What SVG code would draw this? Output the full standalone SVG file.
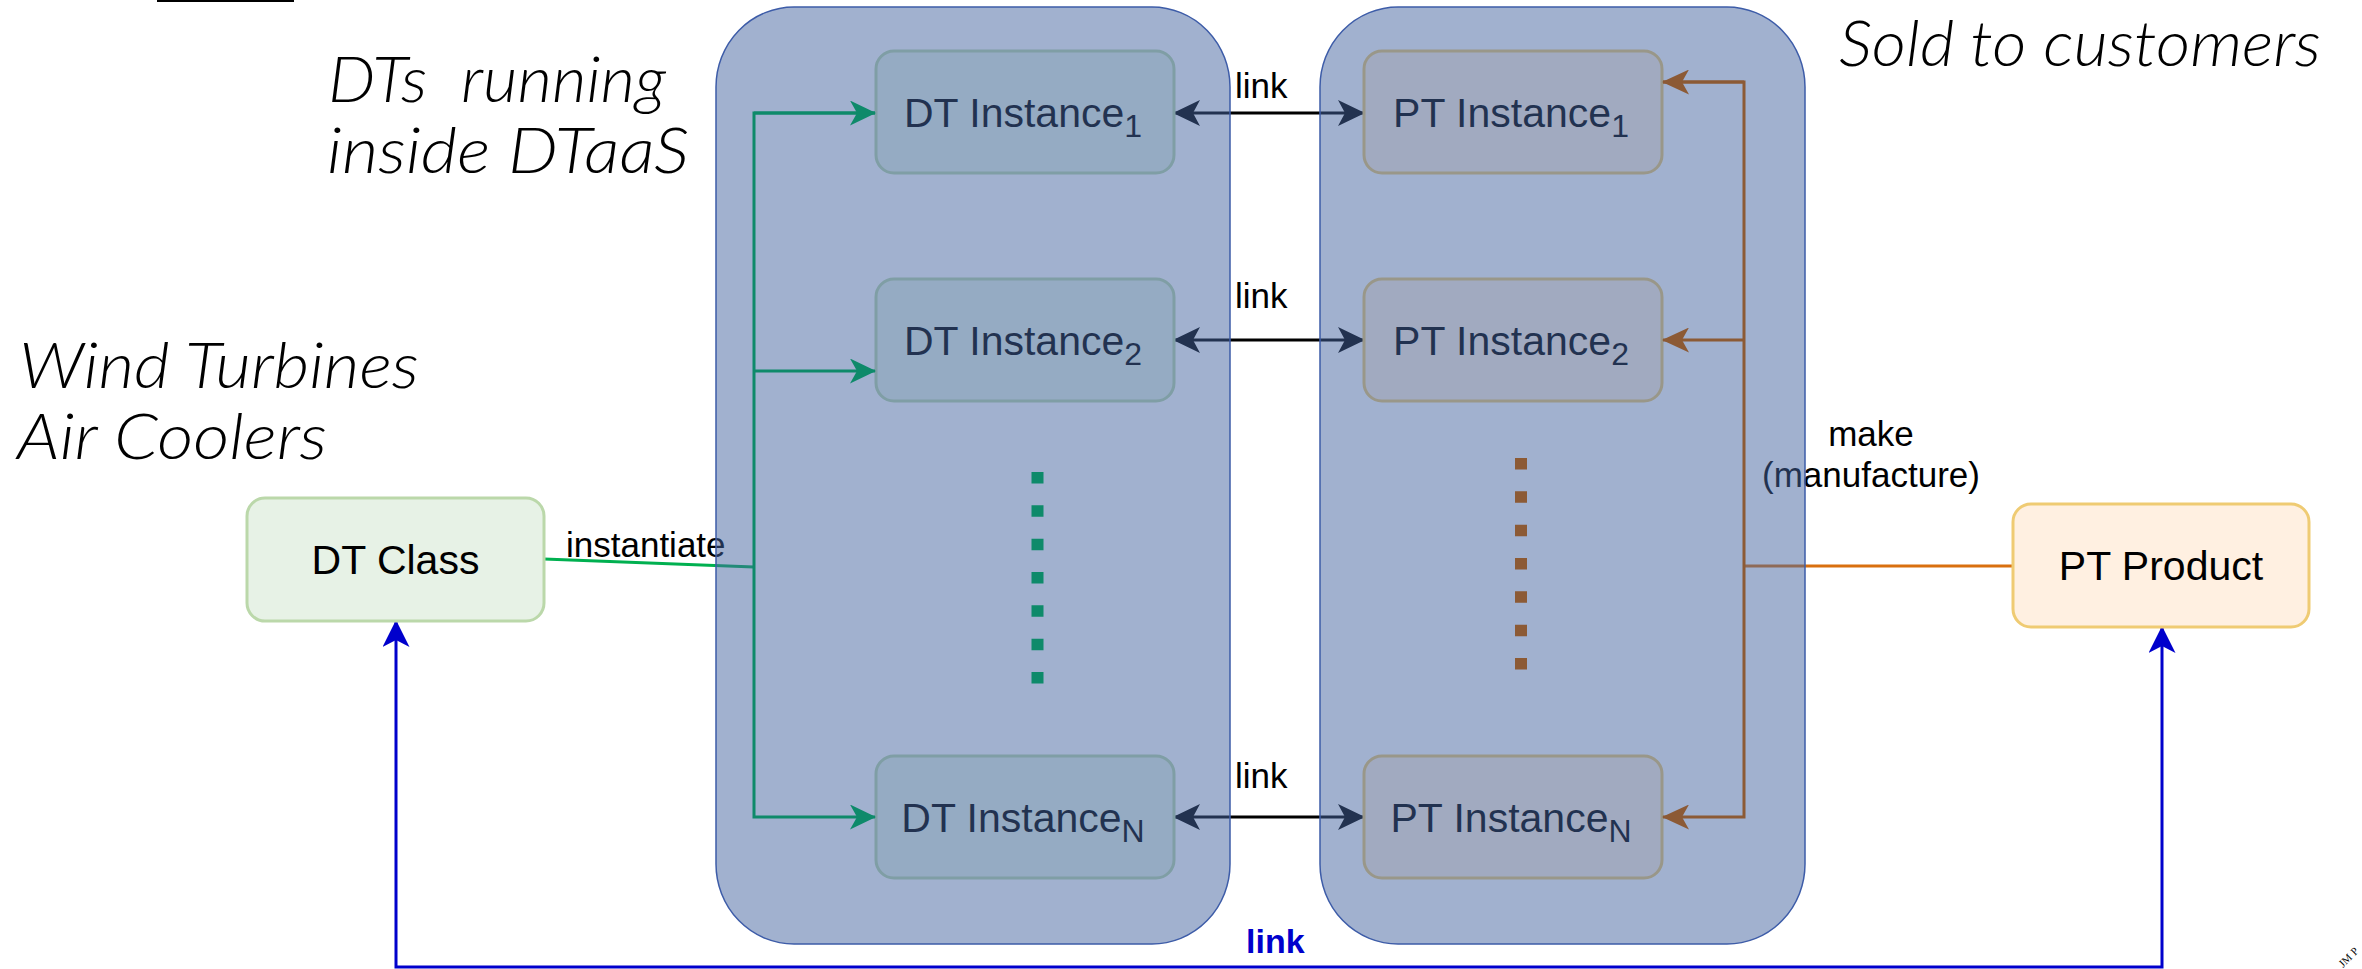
<svg xmlns="http://www.w3.org/2000/svg" width="2362" height="969" viewBox="0 0 2362 969">
  <defs>
    <style>
      .note { font-family: Lato, "Liberation Sans", sans-serif; font-style: italic; font-weight: 300; font-size: 63px; fill: #000; white-space: pre; }
      .lbl { font-family: "Liberation Sans", Arial, sans-serif; font-size: 41px; fill: #000; text-anchor: middle; }
      .elbl { font-family: "Liberation Sans", Arial, sans-serif; font-size: 35px; fill: #000; }
      .dt { fill: #E7F2E6; stroke: #BBD8AA; stroke-width: 3; }
      .pt { fill: #FFF0E1; stroke: #EFCB73; stroke-width: 3; }
      .box { fill: rgb(68,99,159); fill-opacity: 0.5; stroke: #3D5CA8; stroke-width: 1.5; }
      .link { fill: none; stroke: #000; stroke-width: 3; marker-start: url(#arrBlack); marker-end: url(#arrBlack); }
      .green { fill: none; stroke: #0E8A6A; stroke-width: 3; marker-end: url(#arrGreen); }
      .brown { fill: none; stroke: #8C5A35; stroke-width: 3; marker-end: url(#arrBrown); }
    </style>
    <marker id="arrBlack" viewBox="0 0 27 26" markerUnits="userSpaceOnUse" markerWidth="27" markerHeight="26" refX="26" refY="13" orient="auto-start-reverse">
      <path d="M0,0 L27,13 L0,26 L7,13 Z" fill="#000"/>
    </marker>
    <marker id="arrGreen" viewBox="0 0 26 25" markerUnits="userSpaceOnUse" markerWidth="26" markerHeight="25" refX="25" refY="12.5" orient="auto">
      <path d="M0,0 L26,12.5 L0,25 L7,12.5 Z" fill="#0E8A6A"/>
    </marker>
    <marker id="arrBrown" viewBox="0 0 27 25" markerUnits="userSpaceOnUse" markerWidth="27" markerHeight="25" refX="26" refY="12.5" orient="auto">
      <path d="M0,0 L27,12.5 L0,25 L7,12.5 Z" fill="#8C5A35"/>
    </marker>
    <marker id="arrBlue" viewBox="0 0 27 27" markerUnits="userSpaceOnUse" markerWidth="27" markerHeight="27" refX="26" refY="13.5" orient="auto-start-reverse">
      <path d="M0,0 L27,13.5 L0,27 L7,13.5 Z" fill="#0000CC"/>
    </marker>
  </defs>

  <rect x="0" y="0" width="2362" height="969" fill="#fff"/>
  <rect x="157" y="0" width="137" height="2" fill="#000"/>

  <!-- free annotations -->
  <g id="notes">
    <text class="note" x="328" y="102" textLength="338" lengthAdjust="spacingAndGlyphs">DTs  running</text>
    <text class="note" x="327" y="173" textLength="362" lengthAdjust="spacingAndGlyphs">inside DTaaS</text>
    <text class="note" x="19" y="388" textLength="400" lengthAdjust="spacingAndGlyphs">Wind Turbines</text>
    <text class="note" x="17" y="459" textLength="310" lengthAdjust="spacingAndGlyphs">Air Coolers</text>
    <text class="note" x="1839" y="66" textLength="482" lengthAdjust="spacingAndGlyphs">Sold to customers</text>
  </g>

  <!-- connectors drawn beneath the DTaaS / product panels -->
  <g id="connectors-under">
    <path class="link" d="M1174,113 H1364"/>
    <path class="link" d="M1174,340 H1364"/>
    <path class="link" d="M1174,817 H1364"/>
    <path d="M544,559 L754,567" fill="none" stroke="#00B050" stroke-width="3"/>
    <path d="M1744,566 H2013" fill="none" stroke="#D9700F" stroke-width="3"/>
    <path d="M396,621 V967 H2162 V627" fill="none" stroke="#0000CC" stroke-width="3" marker-start="url(#arrBlue)" marker-end="url(#arrBlue)"/>
    <text class="elbl" x="1235" y="98">link</text>
    <text class="elbl" x="1235" y="308">link</text>
    <text class="elbl" x="1235" y="788">link</text>
    <text class="elbl" x="566" y="557">instantiate</text>
    <text class="elbl" x="1871" y="446" text-anchor="middle">make</text>
    <text class="elbl" x="1871" y="487" text-anchor="middle">(manufacture)</text>
    <text x="1246" y="953" font-family="Liberation Sans, Arial, sans-serif" font-size="34" font-weight="bold" fill="#0000CC">link</text>
  </g>

  <!-- nodes -->
  <g id="dt-class">
    <rect class="dt" x="247" y="498" width="297" height="123" rx="18"/>
    <text class="lbl" x="395.5" y="574">DT Class</text>
  </g>
  <g id="pt-product">
    <rect class="pt" x="2013" y="504" width="296" height="123" rx="18"/>
    <text class="lbl" x="2161" y="580">PT Product</text>
  </g>
  <g id="dt-instance-1">
    <rect class="dt" x="876" y="51" width="298" height="122" rx="18"/>
    <text class="lbl" x="1023" y="127">DT Instance<tspan font-size="32" dy="10">1</tspan></text>
  </g>
  <g id="dt-instance-2">
    <rect class="dt" x="876" y="279" width="298" height="122" rx="18"/>
    <text class="lbl" x="1023" y="355">DT Instance<tspan font-size="32" dy="10">2</tspan></text>
  </g>
  <g id="dt-instance-n">
    <rect class="dt" x="876" y="756" width="298" height="122" rx="18"/>
    <text class="lbl" x="1023" y="832">DT Instance<tspan font-size="32" dy="10">N</tspan></text>
  </g>
  <g id="pt-instance-1">
    <rect class="pt" x="1364" y="51" width="298" height="122" rx="18"/>
    <text class="lbl" x="1511" y="127">PT Instance<tspan font-size="32" dy="10">1</tspan></text>
  </g>
  <g id="pt-instance-2">
    <rect class="pt" x="1364" y="279" width="298" height="122" rx="18"/>
    <text class="lbl" x="1511" y="355">PT Instance<tspan font-size="32" dy="10">2</tspan></text>
  </g>
  <g id="pt-instance-n">
    <rect class="pt" x="1364" y="756" width="298" height="122" rx="18"/>
    <text class="lbl" x="1511" y="832">PT Instance<tspan font-size="32" dy="10">N</tspan></text>
  </g>

  <!-- translucent panels -->
  <g id="dtaas-panel">
    <rect class="box" x="716" y="7" width="514" height="937" rx="78" ry="80"/>
  </g>
  <g id="pt-panel">
    <rect class="box" x="1320" y="7" width="485" height="937" rx="78" ry="80"/>
  </g>

  <!-- connectors drawn over the panels -->
  <g id="connectors-over">
    <path class="green" d="M875,113 H754 V817 H875"/>
    <path class="green" d="M754,113 H875"/>
    <path class="green" d="M754,371 H875"/>
    <path d="M1037.5,472 V684" fill="none" stroke="#0E8A6A" stroke-width="12" stroke-dasharray="11.5 21.83"/>
    <path class="brown" d="M1663,82 H1744 V817 H1663"/>
    <path class="brown" d="M1744,82 H1663"/>
    <path class="brown" d="M1744,340 H1663"/>
    <path d="M1521,458 V670" fill="none" stroke="#8C5A35" stroke-width="12" stroke-dasharray="11.5 21.83"/>
  </g>

  <text x="2343" y="968" transform="rotate(-45 2343 968)" font-family="Liberation Serif, serif" font-size="11" fill="#000">JM P</text>
</svg>
